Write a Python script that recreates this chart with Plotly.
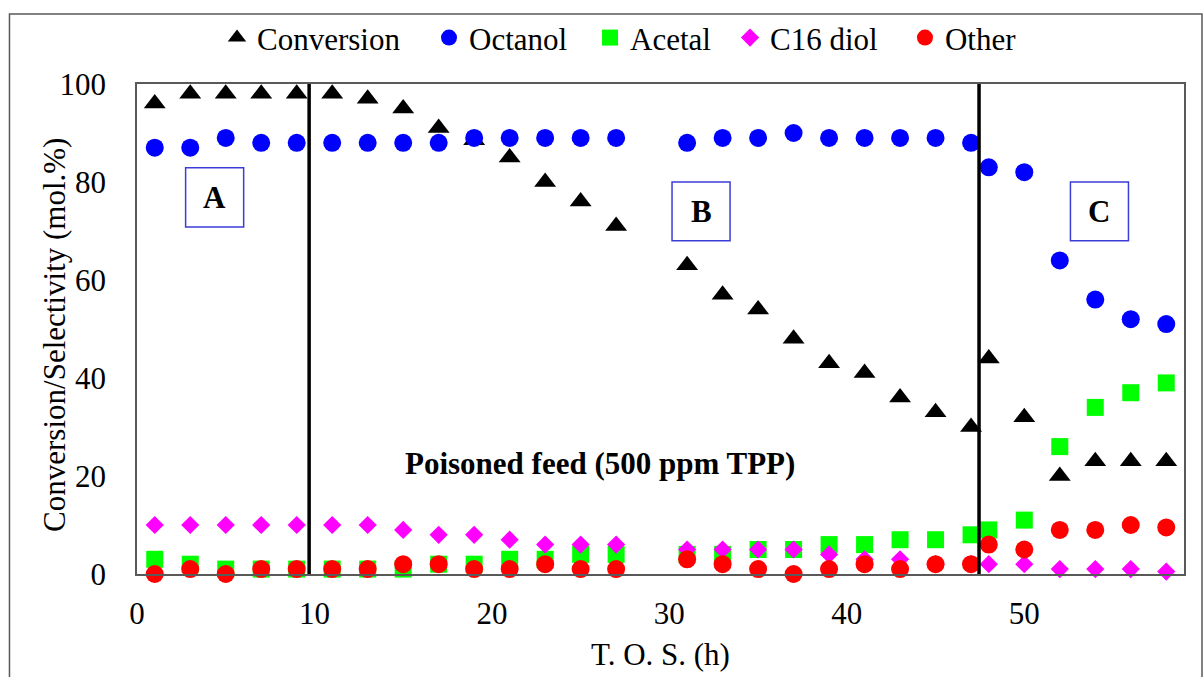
import plotly.graph_objects as go

# ---- data ----
tos = [1, 3, 5, 7, 9, 11, 13, 15, 17, 19, 21, 23, 25, 27,
       31, 33, 35, 37, 39, 41, 43, 45, 47, 48, 50, 52, 54, 56, 58]
conversion = [96, 98, 98, 98, 98, 98, 97, 95, 91, 88.5, 85, 80, 76, 71,
              63, 57, 54, 48, 43, 41, 36, 33, 30, 44, 32, 20, 23, 23, 23]
octanol = [87, 87, 89, 88, 88, 88, 88, 88, 88, 89, 89, 89, 89, 89,
           88, 89, 89, 90, 89, 89, 89, 89, 88, 83, 82, 64, 56, 52, 51]
acetal = [3, 2, 1, 1, 1, 1, 1, 1, 2, 2, 3, 3, 4, 4,
          4, 4, 5, 5, 6, 6, 7, 7, 8, 9, 11, 26, 34, 37, 39]
c16_diol = [10, 10, 10, 10, 10, 10, 10, 9, 8, 8, 7, 6, 6, 6,
            5, 5, 5, 5, 4, 3, 3, 2, 2, 2, 2, 1, 1, 1, 0.5]
other = [0, 1, 0, 1, 1, 1, 1, 2, 2, 1, 1, 2, 1, 1,
         3, 2, 1, 0, 1, 2, 1, 2, 2, 6, 5, 9, 9, 10, 9.5]

series_names = ["Conversion", "Octanol", "Acetal", "C16 diol", "Other"]
x_ticks = [0, 10, 20, 30, 40, 50]
y_ticks = [0, 20, 40, 60, 80, 100]
region_labels = ["A", "B", "C"]
poison_label = "Poisoned feed (500 ppm TPP)"
x_title = "T. O. S. (h)"
y_title = "Conversion/Selectivity (mol.%)"

FONT = "Liberation Serif"

fig = go.Figure()
styles = [
    (conversion, dict(symbol="triangle-up", size=19, color="black")),
    (octanol, dict(symbol="circle", size=18, color="#0000FF")),
    (acetal, dict(symbol="square", size=17, color="#00FF00")),
    (c16_diol, dict(symbol="diamond", size=14, color="#FF00FF")),
    (other, dict(symbol="circle", size=18, color="#FF0000")),
]
# each legend entry gets its own legend box so the spacing matches the reference
legend_x = [0.0764, 0.2789, 0.4327, 0.5664, 0.7335]
legend_ids = ["legend", "legend2", "legend3", "legend4", "legend5"]
for name, (vals, mk), lid in zip(series_names, styles, legend_ids):
    fig.add_trace(go.Scatter(x=tos, y=vals, mode="markers", name=name,
                             marker=dict(line=dict(width=0), **mk),
                             cliponaxis=False, legend=lid))

# vertical separator lines
for xv in [9.7, 47.45]:
    fig.add_shape(type="line", xref="x", yref="paper", x0=xv, x1=xv, y0=0, y1=1,
                  line=dict(color="black", width=3.5))

# region boxes
boxes = [(2.74, 6.01, 70.8, 82.9), (30.15, 33.42, 68.0, 80.0), (52.6, 55.87, 68.0, 80.0)]
for lab, (x0, x1, y0, y1) in zip(region_labels, boxes):
    fig.add_shape(type="rect", xref="x", yref="y", x0=x0, x1=x1, y0=y0, y1=y1,
                  line=dict(color="#3C3CD8", width=1.5))
    fig.add_annotation(x=(x0 + x1) / 2, y=(y0 + y1) / 2, text="<b>%s</b>" % lab,
                       showarrow=False, font=dict(family=FONT, size=31, color="black"))

fig.add_annotation(x=26.1, y=22.6, text="<b>%s</b>" % poison_label, showarrow=False,
                   font=dict(family=FONT, size=31, color="black"))

# y-axis title placed as rotated text (it overlaps the tick-label column in the reference)
fig.add_annotation(xref="paper", yref="paper", x=-0.0783, y=0.488, text=y_title,
                   textangle=-90, showarrow=False, xanchor="center", yanchor="middle",
                   font=dict(family=FONT, size=31, color="black"))

# outer chart border
fig.add_shape(type="rect", xref="paper", yref="paper", x0=-0.1218, x1=1.0172,
              y0=-0.3, y1=1.1429, line=dict(color="#595959", width=1.5), layer="below")

leg_common = dict(orientation="h", y=1.094, xanchor="left", yanchor="middle",
                  font=dict(family=FONT, size=31, color="black"),
                  bgcolor="rgba(0,0,0,0)", borderwidth=0)
layout_legends = {lid: dict(x=lx, **leg_common) for lid, lx in zip(legend_ids, legend_x)}

fig.update_layout(
    width=1203, height=677,
    margin=dict(l=137, r=19, t=84, b=103, autoexpand=False),
    paper_bgcolor="white", plot_bgcolor="white",
    font=dict(family=FONT, size=31, color="black"),
    showlegend=True,
    xaxis=dict(range=[0, 59], tickvals=x_ticks, showgrid=False, zeroline=False,
               showline=True, mirror=True, linecolor="#595959", linewidth=1.5,
               ticks="", ticklabelstandoff=11,
               tickfont=dict(family=FONT, size=31),
               title=dict(text=x_title, standoff=13, font=dict(family=FONT, size=31))),
    yaxis=dict(range=[0, 100], tickvals=y_ticks, showgrid=False, zeroline=False,
               showline=True, mirror=True, linecolor="#595959", linewidth=1.5,
               ticks="", ticklabelstandoff=23,
               tickfont=dict(family=FONT, size=31)),
    **layout_legends,
)

fig.write_html("out.html")
